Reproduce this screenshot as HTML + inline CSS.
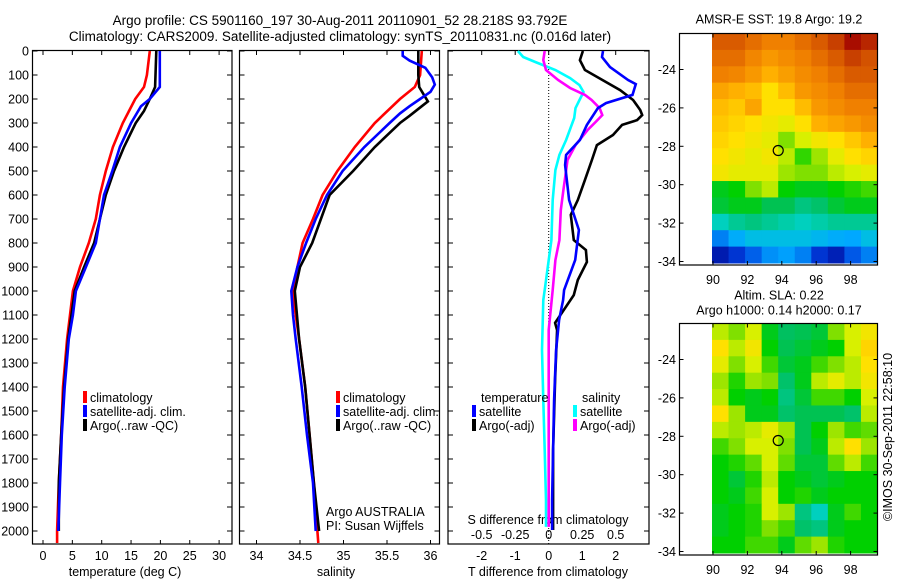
<!DOCTYPE html>
<html><head><meta charset="utf-8"><style>
html,body{margin:0;padding:0;background:#fff;}
svg{display:block;font-family:"Liberation Sans",sans-serif;}
text{font-size:12.5px;fill:#000;}
</style></head><body>
<svg id="fig" width="900" height="580" viewBox="0 0 900 580" xmlns="http://www.w3.org/2000/svg">
<rect x="0" y="0" width="900" height="580" fill="#fff"/>
<text x="340" y="25" text-anchor="middle" style="font-size:13.5px">Argo profile: CS 5901160_197 30-Aug-2011 20110901_52 28.218S 93.792E</text>
<text x="340" y="41" text-anchor="middle" style="font-size:13.5px">Climatology: CARS2009. Satellite-adjusted climatology: synTS_20110831.nc (0.016d later)</text>
<g id="p1"></g>
<g id="p2"></g>
<g id="p3"></g>
<g id="m1"></g>
<g id="m2"></g>
<text transform="translate(892,437) rotate(-90)" text-anchor="middle">©IMOS 30-Sep-2011 22:58:10</text>
</svg>
<script>
// ---- data ----
const tempClimDepth=[0,100,150,200,300,400,500,600,700,800,900,1000,1100,1200,1400,1600,1800,2000,2050];
const tempClim=[18.2,17.7,17.2,15.7,13.6,11.9,10.7,9.7,9.0,7.8,6.3,5.1,4.6,4.1,3.4,3.1,2.7,2.4,2.4];
const tempSatDepth=[0,150,200,230,300,400,500,600,700,800,900,1000,1100,1200,1400,1600,1800,2000];
const tempSat=[19.9,19.9,18.2,16.7,15.0,13.1,11.8,10.4,9.7,9.0,7.3,5.6,5.1,4.4,3.7,3.2,2.9,2.6];
const tempArgoDepth=[0,150,200,250,300,400,500,600,700,800,900,1000,1200,1400,1600,1800,2000];
const tempArgo=[19.3,19.1,18.2,17.2,15.8,13.8,12.1,10.7,9.7,8.7,7.0,5.4,4.3,3.6,3.1,2.7,2.7];
const salClimDepth=[0,100,150,200,300,400,500,600,700,800,900,1000,1100,1200,1400,1600,1800,2000,2050];
const salClim=[35.90,35.88,35.82,35.65,35.36,35.13,34.93,34.76,34.65,34.53,34.47,34.42,34.45,34.49,34.56,34.61,34.66,34.70,34.71];
const salSatDepth=[0,20,40,70,110,140,170,200,230,260,300,400,500,600,700,800,900,1000,1100,1200,1400,1600,1800,2000];
const salSat=[35.68,35.68,35.76,35.94,36.02,36.05,36.0,35.88,35.76,35.65,35.53,35.24,34.99,34.81,34.68,34.57,34.47,34.40,34.42,34.45,34.52,34.58,34.65,34.68];
const salArgoDepth=[0,100,150,180,210,230,270,300,400,500,600,700,800,900,1000,1200,1400,1600,1800,2000];
const salArgo=[35.86,35.86,35.87,35.92,35.97,35.90,35.76,35.65,35.36,35.11,34.84,34.74,34.64,34.50,34.44,34.49,34.56,34.61,34.66,34.72];
const dTsatDepth=[0,25,67,121,138,183,217,238,308,371,433,475,621,746,871,996,1038,1121,1246,1454,1663,1871,1996];
const dTsat=[1.62,1.59,1.83,2.37,2.6,2.5,1.71,1.47,1.14,0.93,0.52,0.49,0.61,0.9,0.79,0.46,0.43,0.31,0.22,0.16,0.13,0.1,0.1];
const dTargoDepth=[0,38,79,163,204,246,267,288,308,350,392,454,538,621,683,788,829,879,954,1017,1133,1163,1371,1663,1996];
const dTargo=[1.02,0.93,1.08,2.13,2.52,2.73,2.79,2.64,2.19,1.92,1.44,1.29,1.08,0.87,0.66,0.75,1.11,1.14,0.87,0.75,0.19,0.25,0.19,0.13,0.13];
const dSsatDepth=[0,25,46,79,113,142,171,204,238,279,371,433,496,621,788,996,1038,1246,1454,1663,1871,1983];
const dSsat=[-0.23,-0.19,-0.10,0.05,0.16,0.23,0.26,0.23,0.20,0.19,0.13,0.08,0.05,0.03,0.02,-0.03,-0.04,-0.05,-0.04,-0.03,-0.02,-0.02];
const dSargoDepth=[0,38,79,121,154,183,204,238,267,296,329,392,454,538,579,663,788,871,996,1163,1454,1663,1983];
const dSargo=[-0.03,-0.04,-0.02,0.07,0.16,0.27,0.32,0.38,0.40,0.35,0.29,0.20,0.14,0.12,0.11,0.09,0.08,0.05,0.03,0.0,0.0,0.0,0.0];
const depthTicks=[0,100,200,300,400,500,600,700,800,900,1000,1100,1200,1300,1400,1500,1600,1700,1800,1900,2000];
const tempTicks=[0,5,10,15,20,25,30];
const salTicks=[34,34.5,35,35.5,36];
const salTickLabels=["34","34.5","35","35.5","36"];
const dTTicks=[-2,-1,0,1,2];
const dSTicks=[-0.5,-0.25,0,0.25,0.5];
const dSTickLabels=["-0.5","-0.25","0","0.25","0.5"];
const lonTicks=[90,92,94,96,98];
const latTicks=[-24,-26,-28,-30,-32,-34];
const argoLon=93.792, argoLat=-28.218;
const sstGrid=[
[0.92,0.92,0.9,0.88,0.88,0.9,0.92,0.95,0.99,0.97],
[0.9,0.9,0.87,0.84,0.86,0.88,0.9,0.92,0.95,0.93],
[0.88,0.87,0.84,0.8,0.83,0.86,0.88,0.9,0.92,0.92],
[0.82,0.8,0.78,0.72,0.78,0.84,0.86,0.88,0.9,0.9],
[0.78,0.76,0.82,0.72,0.72,0.78,0.84,0.86,0.88,0.88],
[0.76,0.74,0.72,0.7,0.68,0.72,0.8,0.82,0.84,0.86],
[0.74,0.72,0.7,0.68,0.6,0.66,0.7,0.72,0.76,0.8],
[0.72,0.7,0.68,0.7,0.64,0.55,0.62,0.68,0.72,0.74],
[0.7,0.68,0.68,0.68,0.62,0.6,0.6,0.64,0.66,0.68],
[0.5,0.52,0.6,0.64,0.52,0.5,0.5,0.52,0.54,0.56],
[0.48,0.5,0.5,0.46,0.46,0.42,0.44,0.48,0.5,0.5],
[0.36,0.4,0.42,0.4,0.38,0.36,0.38,0.4,0.4,0.4],
[0.2,0.26,0.3,0.3,0.3,0.3,0.28,0.26,0.25,0.3],
[0.05,0.1,0.16,0.22,0.24,0.2,0.1,0.06,0.15,0.2]];
const slaGrid=[
[0.64,0.6,0.66,0.5,0.45,0.46,0.48,0.6,0.66,0.7],
[0.72,0.64,0.7,0.52,0.46,0.48,0.5,0.52,0.66,0.74],
[0.68,0.6,0.66,0.56,0.48,0.5,0.56,0.6,0.64,0.72],
[0.62,0.54,0.62,0.6,0.44,0.5,0.64,0.68,0.64,0.7],
[0.64,0.52,0.5,0.52,0.42,0.48,0.56,0.56,0.52,0.66],
[0.72,0.62,0.5,0.5,0.44,0.46,0.46,0.46,0.44,0.64],
[0.64,0.62,0.64,0.68,0.62,0.46,0.52,0.62,0.56,0.58],
[0.56,0.6,0.66,0.66,0.6,0.46,0.5,0.64,0.72,0.62],
[0.52,0.54,0.58,0.66,0.58,0.48,0.48,0.58,0.64,0.56],
[0.52,0.48,0.54,0.64,0.52,0.5,0.48,0.5,0.52,0.52],
[0.52,0.5,0.56,0.66,0.52,0.54,0.5,0.52,0.52,0.52],
[0.5,0.52,0.54,0.66,0.62,0.42,0.36,0.5,0.56,0.52],
[0.5,0.52,0.54,0.6,0.56,0.44,0.42,0.5,0.52,0.52],
[0.52,0.52,0.56,0.56,0.5,0.58,0.62,0.54,0.52,0.52]];

// ---- helpers ----
const NS="http://www.w3.org/2000/svg";
function mk(parent,tag,attrs,txt){const e=document.createElementNS(NS,tag);for(const k in attrs)e.setAttribute(k,attrs[k]);if(txt!==undefined)e.textContent=txt;parent.appendChild(e);return e;}
const yD=d=>51+d*0.24;
const PT=51,PB=544;
function panelBox(g,x0,x1,name){
  const r=mk(g,'rect',{x:x0,y:50.5,width:x1-x0,height:PB-50.5,fill:'none',stroke:'#000','stroke-width':1.2});
  
  
  depthTicks.forEach(d=>{const y=yD(d);
    mk(g,'line',{x1:x0,x2:x0+5,y1:y,y2:y,stroke:'#000'});
    mk(g,'line',{x1:x1-5,x2:x1,y1:y,y2:y,stroke:'#000'});});
}
function line(g,xs,ds,sx,color,name){
  const pts=xs.map((v,i)=>sx(v).toFixed(1)+','+yD(ds[i]).toFixed(1)).join(' ');
  const p=mk(g,'polyline',{points:pts,fill:'none',stroke:color,'stroke-width':2.6,'stroke-linejoin':'miter'});
  
  
}
function legend(g,x,y,color,label,name){
  const r=mk(g,'rect',{x:x-2,y:y-7,width:4,height:12,fill:color});
  
  
  const t=mk(g,'text',{x:x+5,y:y+4},label);
  
  
}
function txt(g,x,y,s,anchor,name){const t=mk(g,'text',{x:x,y:y,'text-anchor':anchor||'middle'},s);
  
  return t;}

// ---- panel 1 temperature ----
const p1=document.getElementById('p1');
const sxT=v=>43+v*5.87;
panelBox(p1,32.5,232,'temperature-axes');
depthTicks.forEach(d=>txt(p1,29,yD(d)+4.5,String(d),'end','depth-tick-label'));
tempTicks.forEach(v=>{const x=sxT(v);mk(p1,'line',{x1:x,x2:x,y1:50.5,y2:55,stroke:'#000'});mk(p1,'line',{x1:x,x2:x,y1:PB-4,y2:PB,stroke:'#000'});txt(p1,x,560,String(v),'middle','temperature-tick-label');});
txt(p1,125,576,'temperature (deg C)','middle','temperature-axis-title');
line(p1,tempClim,tempClimDepth,sxT,'#f00','temp-climatology-line');
line(p1,tempArgo,tempArgoDepth,sxT,'#000','temp-argo-line');
line(p1,tempSat,tempSatDepth,sxT,'#00f','temp-satellite-line');
legend(p1,85,398,'#f00','climatology','legend-climatology');
legend(p1,85,412,'#00f','satellite-adj. clim.','legend-satellite');
legend(p1,85,426,'#000','Argo(..raw -QC)','legend-argo');

// ---- panel 2 salinity ----
const p2=document.getElementById('p2');
const sxS=v=>256.5+(v-34)*87;
panelBox(p2,239.5,439.5,'salinity-axes');
salTicks.forEach((v,i)=>{const x=sxS(v);mk(p2,'line',{x1:x,x2:x,y1:50.5,y2:55,stroke:'#000'});mk(p2,'line',{x1:x,x2:x,y1:PB-4,y2:PB,stroke:'#000'});txt(p2,x,560,salTickLabels[i],'middle','salinity-tick-label');});
txt(p2,336,576,'salinity','middle','salinity-axis-title');
line(p2,salClim,salClimDepth,sxS,'#f00','sal-climatology-line');
line(p2,salArgo,salArgoDepth,sxS,'#000','sal-argo-line');
line(p2,salSat,salSatDepth,sxS,'#00f','sal-satellite-line');
legend(p2,338,398,'#f00','climatology','legend-climatology-2');
legend(p2,338,412,'#00f','satellite-adj. clim.','legend-satellite-2');
legend(p2,338,426,'#000','Argo(..raw -QC)','legend-argo-2');
txt(p2,326,516,'Argo AUSTRALIA','start','argo-australia-label');
txt(p2,326,530,'PI: Susan Wijffels','start','pi-label');

// ---- panel 3 differences ----
const p3=document.getElementById('p3');
const sxDT=v=>548.7+v*33.5;
const sxDS=v=>548.7+v*134;
const b3=mk(p3,'rect',{x:448,y:50.5,width:201,height:PB-50.5,fill:'none',stroke:'#000','stroke-width':1.2});


depthTicks.forEach(d=>{const y=yD(d);mk(p3,'line',{x1:448,x2:453,y1:y,y2:y,stroke:'#000'});mk(p3,'line',{x1:644,x2:649,y1:y,y2:y,stroke:'#000'});});
dTTicks.forEach(v=>{const x=sxDT(v);mk(p3,'line',{x1:x,x2:x,y1:50.5,y2:55,stroke:'#000'});txt(p3,x,560,String(v),'middle','t-diff-tick-label');});
dSTicks.forEach((v,i)=>txt(p3,sxDS(v),539,dSTickLabels[i],'middle','s-diff-tick-label'));
const zl=mk(p3,'line',{x1:548.7,x2:548.7,y1:51,y2:PB,stroke:'#000','stroke-dasharray':'1,2'});


txt(p3,548,524,'S difference from climatology','middle','s-diff-axis-title');
txt(p3,548,576,'T difference from climatology','middle','t-diff-axis-title');
line(p3,dSsat,dSsatDepth,sxDS,'#0ff','s-satellite-diff-line');
line(p3,dSargo,dSargoDepth,sxDS,'#f0f','s-argo-diff-line');
line(p3,dTargo,dTargoDepth,sxDT,'#000','t-argo-diff-line');
line(p3,dTsat,dTsatDepth,sxDT,'#00f','t-satellite-diff-line');
txt(p3,481,402,'temperature','start','legend-temperature-heading');
legend(p3,474,412,'#00f','satellite','legend-t-satellite');
legend(p3,474,426,'#000','Argo(-adj)','legend-t-argo');
txt(p3,582,402,'salinity','start','legend-salinity-heading');
legend(p3,575,412,'#0ff','satellite','legend-s-satellite');
legend(p3,575,426,'#f0f','Argo(-adj)','legend-s-argo');

// ---- maps ----
const cstops=[[0,[0,0,140]],[0.12,[0,64,224]],[0.25,[0,168,255]],[0.35,[0,210,200]],[0.45,[0,192,96]],[0.52,[0,208,0]],[0.6,[128,224,0]],[0.66,[216,240,0]],[0.72,[255,224,0]],[0.8,[255,176,0]],[0.88,[240,128,0]],[0.95,[200,64,0]],[1,[160,0,0]]];
function cmap(v){for(let i=1;i<cstops.length;i++){if(v<=cstops[i][0]){const a=cstops[i-1],b=cstops[i],t=(v-a[0])/(b[0]-a[0]);return 'rgb('+a[1].map((c,k)=>Math.round(c+(b[1][k]-c)*t)).join(',')+')';}}return 'rgb(160,0,0)';}
function drawMap(g,top,grid,title1,title2,nm){
  const L=679.5,R=877.5,B=top+231.5;
  const sx=lon=>713+(lon-90)*17.2;
  const sy=lat=>top+36+(-24-lat)*19.2;
  const rows=grid.length,cols=grid[0].length;
  const x0=712,y0=top,cw=(R-x0)/cols,ch=(B-2-y0)/rows;
  grid.forEach((row,r)=>row.forEach((v,c)=>{
    const cell=mk(g,'rect',{x:(x0+c*cw).toFixed(2),y:(y0+r*ch).toFixed(2),width:(cw+0.5).toFixed(2),height:(ch+0.5).toFixed(2),fill:cmap(v)});
    
    
  }));
  const box=mk(g,'rect',{x:L,y:top,width:R-L,height:B-top,fill:'none',stroke:'#000','stroke-width':1.2});
  
  
  lonTicks.forEach(v=>{const x=sx(v);mk(g,'line',{x1:x,x2:x,y1:top,y2:top+4,stroke:'#000'});mk(g,'line',{x1:x,x2:x,y1:B-4,y2:B,stroke:'#000'});txt(g,x,B+19,String(v),'middle',nm+'-lon-label');});
  latTicks.forEach(v=>{const y=sy(v);mk(g,'line',{x1:L,x2:L+4,y1:y,y2:y,stroke:'#000'});mk(g,'line',{x1:R-4,x2:R,y1:y,y2:y,stroke:'#000'});txt(g,676,y+4.5,String(v),'end',nm+'-lat-label');});
  const c=mk(g,'circle',{cx:sx(argoLon),cy:sy(argoLat),r:5,fill:'none',stroke:'#000','stroke-width':1.2});
  
  
  if(title2){txt(g,779,top-24,title1,'middle',nm+'-title');txt(g,779,top-9,title2,'middle',nm+'-subtitle');}
  else txt(g,779,top-10,title1,'middle',nm+'-title');
}
drawMap(document.getElementById('m1'),33.5,sstGrid,'AMSR-E SST: 19.8 Argo: 19.2',null,'sst-map');
drawMap(document.getElementById('m2'),323.5,slaGrid,'Altim. SLA: 0.22','Argo h1000: 0.14 h2000: 0.17','sla-map');
</script>
</body></html>
